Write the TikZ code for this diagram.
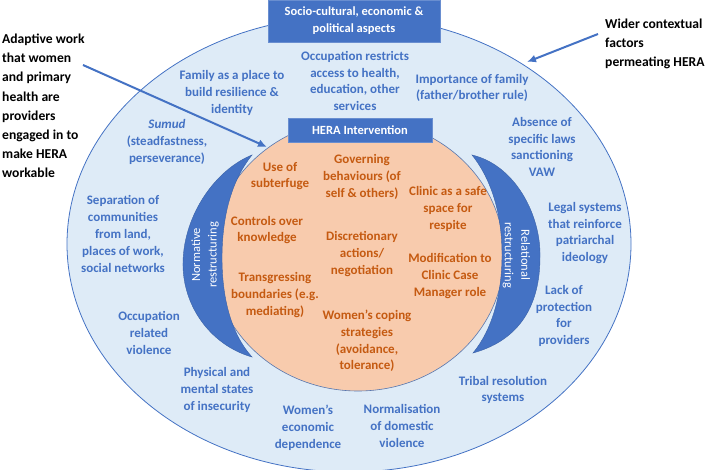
\documentclass[tikz,border=0pt]{standalone}
\usepackage{fontspec}
\setmainfont{Carlito}
\usetikzlibrary{shapes.geometric,arrows.meta}
\definecolor{ellblue}{HTML}{DEEBF7}
\definecolor{midblue}{HTML}{4472C4}
\definecolor{peach}{HTML}{F8CBAD}
\definecolor{rust}{HTML}{C55A11}
\begin{document}
\begin{tikzpicture}[x=1pt,y=-1pt,
  lbl/.style={align=center, inner sep=0pt, font=\bfseries\fontsize{13}{16.8}\selectfont},
  bluetxt/.style={lbl, text=midblue},
  orgtxt/.style={lbl, text=rust},
  blacktxt/.style={align=left, inner sep=0pt, text=black, font=\bfseries\fontsize{13.6}{19.1}\selectfont},
  headbox/.style={fill=midblue, draw=midblue!80!white, text=white, align=center, inner sep=0pt, font=\bfseries\fontsize{12.5}{17}\selectfont},
  cresc/.style={fill=midblue, draw=midblue!85!black, line width=0.4pt},
  cresctxt/.style={text=white, align=center, inner sep=0pt, font=\fontsize{12.5}{16.5}\selectfont},
  pointer/.style={draw=midblue, line width=2pt, -{Latex[length=9pt,width=8pt]}}
]
\useasboundingbox (0,0) rectangle (709,470);

% outer ellipse
\node[ellipse, draw=midblue, fill=ellblue, line width=0.8pt, minimum width=564pt, minimum height=456pt, inner sep=0pt] (outer) at (349,244) {};
% inner orange ellipse
\node[ellipse, draw=midblue!70!gray, fill=peach, line width=0.6pt, minimum width=292pt, minimum height=272pt, inner sep=0pt] (core) at (358,255) {};

% crescents
\path[cresc] (252,155) .. controls (215,170) and (184,215) .. (183,262)
  .. controls (182,305) and (210,345) .. (252,357)
  .. controls (232,335) and (222,300) .. (222,258)
  .. controls (222,215) and (232,180) .. (252,155) -- cycle;
\path[cresc] (472,155) .. controls (515,165) and (541,215) .. (540,257)
  .. controls (540,305) and (520,340) .. (473,353)
  .. controls (492,330) and (502,295) .. (502,255)
  .. controls (502,215) and (492,180) .. (472,155) -- cycle;
\node[cresctxt, rotate=90] (norm) at (205,255) {Normative\\restructuring};
\node[cresctxt, rotate=-90] (rel) at (516.5,255) {Relational\\restructuring};

% header boxes
\node[headbox, minimum width=172pt, minimum height=42pt] (ctx) at (354,21) {Socio-cultural, economic \&\\political aspects};
\node[headbox, minimum width=144pt, minimum height=24pt] (hera) at (360,130) {HERA Intervention};

% blue contextual factors
\node[bluetxt] (fam) at (232,93) {Family as a place to\\build resilience \&\\identity};
\node[bluetxt] (sumud) at (167,142) {\textit{Sumud}\\(steadfastness,\\perseverance)};
\node[bluetxt] (sep) at (123,234) {Separation of\\communities\\from land,\\places of work,\\social networks};
\node[bluetxt] (occv) at (149,333) {Occupation\\related\\violence};
\node[bluetxt] (phys) at (217,390) {Physical and\\mental states\\of insecurity};
\node[bluetxt] (econ) at (308,428) {Women’s\\economic\\dependence};
\node[bluetxt] (norml) at (402,426) {Normalisation\\of domestic\\violence};
\node[bluetxt] (tribal) at (503,390) {Tribal resolution\\systems};
\node[bluetxt] (lack) at (564,316) {Lack of\\protection\\for\\providers};
\node[bluetxt] (legal) at (585,233) {Legal systems\\that reinforce\\patriarchal\\ideology};
\node[bluetxt] (absence) at (542,147) {Absence of\\specific laws\\sanctioning\\VAW};
\node[bluetxt] (import) at (472,88) {Importance of family\\(father/brother rule)};
\node[bluetxt] (occr) at (355,81) {Occupation restricts\\access to health,\\education, other\\services};

% orange intervention items
\node[orgtxt] (subt) at (280,176) {Use of\\subterfuge};
\node[orgtxt] (gov) at (362,177) {Governing\\behaviours (of\\self \& others)};
\node[orgtxt] (ctrl) at (267,230) {Controls over\\knowledge};
\node[orgtxt] (disc) at (362,254) {Discretionary\\actions/\\negotiation};
\node[orgtxt] (clinic) at (448,209) {Clinic as a safe\\space for\\respite};
\node[orgtxt] (trans) at (275,295) {Transgressing\\boundaries (e.g.\\mediating)};
\node[orgtxt] (modif) at (450,276) {Modification to\\Clinic Case\\Manager role};
\node[orgtxt] (coping) at (367,341) {Women’s coping\\strategies\\(avoidance,\\tolerance)};

% side annotations
\node[blacktxt, anchor=north west] (adapt) at (2,34) {Adaptive work\\that women\\and primary\\health are\\providers\\engaged in to\\make HERA\\workable};
\node[blacktxt, anchor=north west] (wider) at (605,19) {Wider contextual\\factors\\permeating HERA};

\coordinate (adaptstart) at (83,65);
\coordinate (adaptend) at (267,147);
\coordinate (widerstart) at (598,34);
\coordinate (widerend) at (527,62);
\draw[pointer] (adaptstart) -- (adaptend);
\draw[pointer] (widerstart) -- (widerend);
\end{tikzpicture}
\end{document}
